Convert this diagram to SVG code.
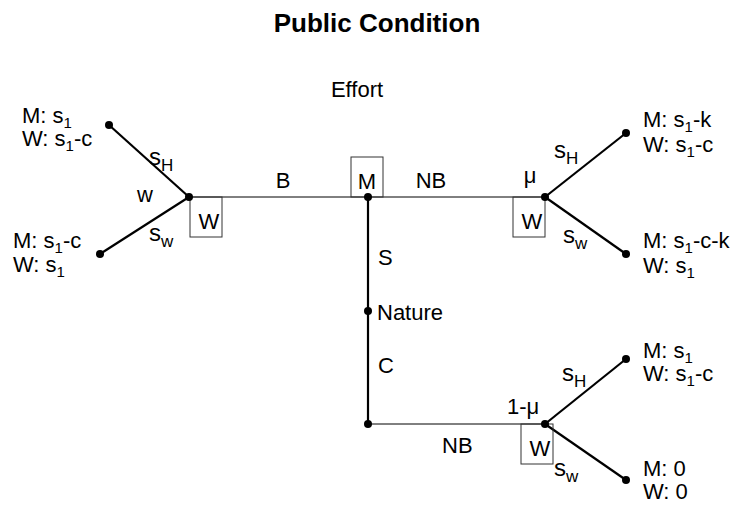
<svg xmlns="http://www.w3.org/2000/svg" width="730" height="506" viewBox="0 0 730 506">
<style>
text{font-family:"Liberation Sans",Arial,sans-serif;font-size:22px;fill:#000}
.title{font-weight:bold;font-size:26px}
.sub{font-size:15px}
.thin{stroke:#000;stroke-width:1;fill:none}
.thick{stroke:#000;stroke-width:2.2;fill:none}
.box{stroke:#333;stroke-width:1;fill:none}
.dot{fill:#000}
.big{font-size:24px}
.bsub{font-size:17px}
</style>
<rect width="730" height="506" fill="#fff"/>
<text class="title" x="377" y="32" text-anchor="middle">Public Condition</text>
<text x="357" y="97" text-anchor="middle">Effort</text>
<g id="connectors">
<line class="thin" x1="189" y1="197" x2="545" y2="197"/>
<line class="thick" x1="368" y1="197" x2="368" y2="424"/>
<line class="thin" x1="368" y1="424" x2="545" y2="424"/>
<line class="thick" x1="189" y1="197" x2="109" y2="125"/>
<line class="thick" x1="189" y1="197" x2="100" y2="254"/>
<line class="thick" x1="545" y1="197" x2="626" y2="133"/>
<line class="thick" x1="545" y1="197" x2="626" y2="254"/>
<line class="thick" x1="545" y1="424" x2="626" y2="359"/>
<line class="thick" x1="545" y1="424" x2="626" y2="480"/>
<text x="283" y="188" text-anchor="middle">B</text>
<text x="431" y="188" text-anchor="middle">NB</text>
<text x="530" y="183" text-anchor="middle">μ</text>
<text x="145" y="202" text-anchor="middle">w</text>
<text x="149" y="165" class="big">s<tspan class="bsub" dy="6">H</tspan></text>
<text x="149" y="241" class="big">s<tspan class="bsub" dy="6">w</tspan></text>
<text x="554" y="158" class="big">s<tspan class="bsub" dy="6">H</tspan></text>
<text x="563" y="243" class="big">s<tspan class="bsub" dy="6">w</tspan></text>
<text x="378" y="265">S</text>
<text x="378" y="373">C</text>
<text x="507" y="414">1-μ</text>
<text x="442" y="453">NB</text>
<text x="562" y="381" class="big">s<tspan class="bsub" dy="6">H</tspan></text>
<text x="554" y="476" class="big">s<tspan class="bsub" dy="6">w</tspan></text>
</g>
<g id="node-M">
<rect class="box" x="351" y="157" width="32" height="40"/>
<text x="367" y="189" text-anchor="middle">M</text>
<circle class="dot" cx="368" cy="197" r="4"/>
</g>
<g id="node-W-left">
<rect class="box" x="190" y="197" width="32" height="40"/>
<text x="209" y="229" text-anchor="middle">W</text>
<circle class="dot" cx="189" cy="197" r="4"/>
</g>
<g id="node-W-right">
<rect class="box" x="513" y="197" width="32" height="40"/>
<text x="532" y="229" text-anchor="middle">W</text>
<circle class="dot" cx="545" cy="197" r="4"/>
</g>
<g id="node-nature">
<circle class="dot" cx="368" cy="311" r="4"/>
<text x="377" y="320">Nature</text>
</g>
<g id="node-corner">
<circle class="dot" cx="368" cy="424" r="4"/>
</g>
<g id="node-W-bottom">
<rect class="box" x="521" y="424" width="32" height="40"/>
<text x="540" y="456" text-anchor="middle">W</text>
<circle class="dot" cx="545" cy="424" r="4"/>
</g>
<g id="leaf-1">
<circle class="dot" cx="109" cy="125" r="4"/>
<text x="22" y="123">M: s<tspan class="sub" dy="5">1</tspan></text>
<text x="22" y="146">W: s<tspan class="sub" dy="5">1</tspan><tspan dy="-5">-c</tspan></text>
</g>
<g id="leaf-2">
<circle class="dot" cx="100" cy="254" r="4"/>
<text x="13" y="248">M: s<tspan class="sub" dy="5">1</tspan><tspan dy="-5">-c</tspan></text>
<text x="13" y="272">W: s<tspan class="sub" dy="5">1</tspan></text>
</g>
<g id="leaf-3">
<circle class="dot" cx="626" cy="133" r="4"/>
<text x="643" y="127">M: s<tspan class="sub" dy="5">1</tspan><tspan dy="-5">-k</tspan></text>
<text x="643" y="152">W: s<tspan class="sub" dy="5">1</tspan><tspan dy="-5">-c</tspan></text>
</g>
<g id="leaf-4">
<circle class="dot" cx="626" cy="254" r="4"/>
<text x="643" y="248">M: s<tspan class="sub" dy="5">1</tspan><tspan dy="-5">-c-k</tspan></text>
<text x="643" y="273">W: s<tspan class="sub" dy="5">1</tspan></text>
</g>
<g id="leaf-5">
<circle class="dot" cx="626" cy="359" r="4"/>
<text x="643" y="358">M: s<tspan class="sub" dy="5">1</tspan></text>
<text x="643" y="381">W: s<tspan class="sub" dy="5">1</tspan><tspan dy="-5">-c</tspan></text>
</g>
<g id="leaf-6">
<circle class="dot" cx="626" cy="480" r="4"/>
<text x="643" y="476">M: 0</text>
<text x="643" y="499">W: 0</text>
</g>
</svg>
